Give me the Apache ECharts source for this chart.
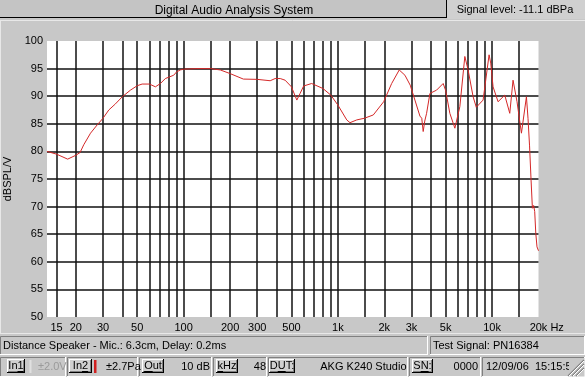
<!DOCTYPE html>
<html><head><meta charset="utf-8">
<script src="https://cdn.jsdelivr.net/npm/echarts@6/dist/echarts.min.js"></script>
<style>html,body{margin:0;padding:0;background:#c8c8c8;}#c{width:585px;height:377px;}</style>
</head><body><div id="c"></div>
<script>
// ---- data ----
const freqHz = [13,15,17.7,20,21.3,22.5,24.9,27.5,30,32.7,36.1,40,45.2,50,53.8,60,65.6,70.7,76.1,86.2,
  90,95,100,122,150,173,200,244,300,364,392,423,455,500,542,569,600,676,800,900,
  1000,1142,1199,1325,1484,1697,1982,2233,2500,2722,2946,3160,3405,3500,3576,3660,3762,3953,4366,4818,
  4993,5324,5737,6180,6658,6993,7535,7900,8119,8746,9563,9800,10150,10935,12085,13020,13675,14515,15500,16700,
  17100,17500,17900,18260,18600,18900,19200,19560,20000];
const levelDb = [80.0,79.5,78.6,79.3,79.8,81.2,83.3,84.8,86.0,87.5,88.6,89.9,91.1,91.9,92.2,92.2,91.7,92.3,93.2,93.8,
  94.4,94.75,94.9,95.0,95.0,94.75,94.1,93.1,93.05,92.8,93.2,93.2,92.9,91.7,89.3,90.5,91.85,92.3,91.4,90.2,
  88.4,85.7,85.2,85.7,86.0,86.6,89.0,92.3,94.75,93.8,92.0,89.3,86.4,86.0,83.6,85.5,86.9,90.5,91.1,92.3,
  91.1,86.9,84.2,88.1,97.2,94.75,89.9,88.0,87.8,89.3,97.5,96.0,91.7,89.0,90.2,86.9,92.9,89.0,83.3,89.9,
  86.0,81.0,74.8,69.7,70.2,69.1,65.2,62.7,62.0];
const gridFreqs = [15,20,30,40,50,60,70,80,90,100,150,200,300,400,500,600,700,800,900,1000,1500,2000,3000,4000,5000,6000,7000,8000,9000,10000,15000];
const labelFreqs = [15,20,30,50,100,200,300,500,1000,2000,3000,5000,10000,20000];
const yLabels = [50,55,60,65,70,75,80,85,90,95,100];
const yGridLines = [55,60,65,70,75,80,85,90,95];
const freqMin = 13, freqMax = 20000;

const FONT = 'Liberation Sans, Arial, sans-serif';
const lg = Math.log10;

function fLabel(f){
  if (f === 20000) return '{p|}20k Hz';
  return f >= 1000 ? (f/1000) + 'k' : String(f);
}

// ---- chrome helpers ----
const G = [];
const cv = document.createElement('canvas').getContext('2d');
function tw(s, size){ cv.font = size + 'px ' + FONT; return cv.measureText(s).width; }
function rect(x,y,w,h,fill){ G.push({type:'rect', silent:true, shape:{x,y,width:w,height:h}, style:{fill}}); }
function line(x1,y1,x2,y2,stroke,lw){ G.push({type:'line', silent:true, shape:{x1,y1,x2,y2}, style:{stroke, lineWidth: lw||1}}); }
function text(x,y,s,opt){ opt=opt||{}; G.push({type:'text', silent:true, x, y, style:{text:s, font:(opt.size||11)+'px '+FONT, fill:opt.fill||'#000', align:opt.align||'left', verticalAlign:'middle'}}); }
function sunken(x,y,w,h){
  line(x+0.5,y+0.5,x+w-0.5,y+0.5,'#808080'); line(x+0.5,y+0.5,x+0.5,y+h-0.5,'#808080');
  line(x,y+h-0.5,x+w,y+h-0.5,'#ffffff'); line(x+w-0.5,y,x+w-0.5,y+h,'#ffffff');
}
function button(x,y,w,h,label,ul){
  rect(x,y,w,h,'#d0d0d0');
  line(x,y+0.5,x+w,y+0.5,'#ffffff'); line(x+0.5,y,x+0.5,y+h,'#ffffff');
  line(x,y+h-0.5,x+w,y+h-0.5,'#000'); line(x+w-0.5,y,x+w-0.5,y+h,'#000');
  line(x+1,y+h-1.5,x+w-1,y+h-1.5,'#808080'); line(x+w-1.5,y+1,x+w-1.5,y+h-1,'#808080');
  const cx = x + w/2, cy = y + h/2;
  text(cx, cy, label, {align:'center'});
  if (ul != null){
    const total = tw(label,11), x0 = cx - total/2 + tw(label.slice(0,ul),11), x1 = x0 + tw(label[ul],11);
    line(x0, cy+5.5, x1, cy+5.5, '#000');
  }
}

// background panels
rect(0,0,447,18,'#c4c4c4');
line(0,17.5,447,17.5,'#000'); line(446.5,0,446.5,18,'#000');
rect(447,0,138,19,'#d0d0d0');
text(234,10.5,'Digital Audio Analysis System',{align:'center',size:12});
text(515,9.5,'Signal level: -11.1 dBPa',{align:'center'});
line(0,20.5,585,20.5,'#e8e8e8'); line(0.5,20,0.5,333,'#e8e8e8');
line(0,333.5,585,333.5,'#e8e8e8');
// status bar
sunken(0,336,428,19); sunken(430,336,155,19);
text(3,346,'Distance Speaker - Mic.: 6.3cm, Delay: 0.2ms');
text(433,346,'Test Signal: PN16384');
// bottom bar
[[0,66],[67,138],[139,212],[213,267],[268,408],[409,481],[482,585]].forEach(p=>sunken(p[0],357,p[1]-p[0],20));
button(7,359,18,14,'In1',2);
rect(29.5,360,2,13,'#e0e0e0');
text(38,367,'±2.0V',{fill:'#9a9a9a'});
button(69,359,23,14,'In2',2);
rect(94,360,2.5,13,'#d02020');
text(106,367,'±2.7Pa');
button(142,359,22,14,'Out',0);
text(210,367,'10 dB',{align:'right'});
button(216,359,22,14,'kHz',0);
text(266,367,'48',{align:'right'});
button(269,359,26,14,'DUT:',1);
text(406.5,367,'AKG K240 Studio',{align:'right'});
button(412,359,21,14,'SN:',1);
text(478,367,'0000',{align:'right'});
text(486,367,'12/09/06  15:15:59');
rect(569,358,15.5,18.5,'#c8c8c8');
for (let i=0;i<3;i++){ const o=4*i; line(584-o-8,376,584,376-o-8,'#808080',1.2); line(584-o-7,376,584,376-o-7,'#ffffff',1); }

// ---- chart ----
const chart = echarts.init(document.getElementById('c'), null, {renderer:'canvas'});
chart.setOption({
  animation:false,
  backgroundColor:'#c8c8c8',
  grid:{left:47, right:46.5, top:41, bottom:60, show:true, backgroundColor:'#ffffff', borderWidth:0, outerBoundsMode:'none', containLabel:false},
  xAxis:{
    type:'value', min:lg(freqMin), max:lg(freqMax),
    axisLine:{show:false},
    axisTick:{show:false, customValues: gridFreqs.map(lg)},
    splitLine:{show:true, lineStyle:{color:'#111', width:1.5}},
    axisLabel:{customValues: labelFreqs.map(lg), margin:5, color:'#000', fontSize:11, fontFamily:FONT,
      formatter: v => fLabel(Math.round(Math.pow(10, v))),
      rich:{p:{width:16.5}}}
  },
  yAxis:{
    type:'value', min:50, max:100, interval:5,
    name:'dBSPL/V', nameLocation:'middle', nameGap:31, nameRotate:90,
    nameTextStyle:{color:'#000', fontSize:11, fontFamily:FONT},
    axisLine:{show:false},
    axisTick:{show:false, customValues: yGridLines},
    splitLine:{show:true, lineStyle:{color:'#111', width:1.5}},
    axisLabel:{customValues: yLabels, margin:4, color:'#000', fontSize:11, fontFamily:FONT}
  },
  series:[{
    type:'line', showSymbol:false, symbol:'none', silent:true,
    lineStyle:{color:'#d42828', width:1},
    data: freqHz.map((f,i)=>[lg(f), levelDb[i]])
  }],
  graphic: G
});
</script></body></html>
